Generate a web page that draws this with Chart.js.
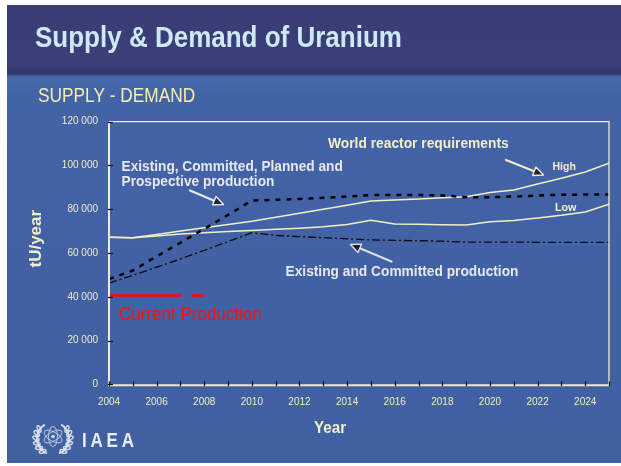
<!DOCTYPE html>
<html><head><meta charset="utf-8">
<script src="https://cdn.jsdelivr.net/npm/chart.js@4.4.0/dist/chart.umd.min.js"></script>
<style>html,body{margin:0;padding:0;background:#fff;overflow:hidden}canvas{display:block}</style>
</head><body>
<canvas id="c" width="621" height="466"></canvas>
<script>
// ---- data ----
const years = [2004,2005,2006,2007,2008,2009,2010,2011,2012,2013,2014,2015,2016,2017,2018,2019,2020,2021,2022,2023,2024,2025];
const highRequirements = [67200,67000,68500,70000,71500,73000,74500,76300,78200,80000,81800,83800,84200,84700,85200,85700,87600,88800,91500,94200,97000,101000];
const lowRequirements  = [67200,67000,67800,68700,69300,69800,70300,70800,71300,72000,73000,75000,73300,73100,72900,72800,74300,74800,76000,77200,78700,82300];
const ecppProduction   = [48100,52000,58500,64700,71000,77400,84000,84300,84700,85200,85800,86500,86500,86500,86300,85500,85500,85800,86300,86600,86700,86700];
const ecProduction     = [46200,49800,53500,57300,61200,65200,69300,68000,67500,67000,66500,66000,65800,65600,65400,65000,65000,65000,64900,64900,64900,64900];
const currentProductionYears = [2004,2008];
const currentProduction = [40700,40700];
const yTickValues = [0,20000,40000,60000,80000,100000,120000];
const xLabelYears = [2004,2006,2008,2010,2012,2014,2016,2018,2020,2022,2024];

const FONT = "'Liberation Sans', Arial, Helvetica, sans-serif";
const CREAM = '#f3efc6';
const LIGHT = '#e6e8ee';

function pts(xs, ys){ return xs.map((x,i)=>({x:x, y:ys[i]})); }
function fmt(v){ return String(v).replace(/\B(?=(\d{3})+(?!\d))/g,' '); }

function txt(ctx, s, x, y, font, color, sy, align, ls){
  ctx.save();
  ctx.translate(x,y); ctx.scale(1, sy||1);
  ctx.font = font; ctx.fillStyle = color;
  ctx.textAlign = align||'left'; ctx.textBaseline = 'alphabetic';
  if (ls) ctx.letterSpacing = ls;
  ctx.fillText(s,0,0);
  ctx.restore();
}
function arrow(ctx, x1,y1,x2,y2,color){
  const a = Math.atan2(y2-y1,x2-x1), L=10, W=4.5;
  const bx = x2 - L*Math.cos(a), by = y2 - L*Math.sin(a);
  ctx.save();
  ctx.strokeStyle = color; ctx.lineWidth = 2.2; ctx.lineCap='round';
  ctx.beginPath(); ctx.moveTo(x1,y1); ctx.lineTo(bx,by); ctx.stroke();
  ctx.beginPath();
  ctx.moveTo(x2,y2);
  ctx.lineTo(bx + W*Math.sin(a), by - W*Math.cos(a));
  ctx.lineTo(bx - W*Math.sin(a), by + W*Math.cos(a));
  ctx.closePath();
  ctx.fillStyle = '#1c2033'; ctx.fill();
  ctx.lineWidth = 1.4; ctx.lineJoin='round'; ctx.stroke();
  ctx.restore();
}

const decor = {
  id:'decor',
  beforeDraw(chart){
    const ctx = chart.ctx;
    ctx.save();
    ctx.fillStyle = '#ffffff'; ctx.fillRect(0,0,621,466);
    // body
    let g = ctx.createLinearGradient(0,76,0,463);
    g.addColorStop(0,'#4a6aae'); g.addColorStop(0.05,'#4363a7'); g.addColorStop(1,'#4060a2');
    ctx.fillStyle = g; ctx.fillRect(7,74,614,389);
    // header
    g = ctx.createLinearGradient(0,5,0,74);
    g.addColorStop(0,'#383d75'); g.addColorStop(0.85,'#3a3f78'); g.addColorStop(1,'#30366a');
    ctx.fillStyle = g; ctx.fillRect(7,5,614,70);
    g = ctx.createLinearGradient(0,72,0,80);
    g.addColorStop(0,'#2f3667'); g.addColorStop(1,'rgba(70,104,172,0)');
    ctx.fillStyle = g; ctx.fillRect(7,72,614,8);
    ctx.restore();
  },
  afterDraw(chart){
    const ctx = chart.ctx, ca = chart.chartArea;
    const xs = chart.scales.x, ys = chart.scales.y;
    ctx.save();
    // plot frame
    ctx.strokeStyle = '#efeccc';
    ctx.lineWidth = 1.3;
    ctx.beginPath();
    ctx.moveTo(ca.left, ca.top); ctx.lineTo(ca.right, ca.top); ctx.lineTo(ca.right, ca.bottom);
    ctx.stroke();
    ctx.lineWidth = 2;
    ctx.beginPath();
    ctx.moveTo(ca.left, ca.top); ctx.lineTo(ca.left, ca.bottom+1); ctx.lineTo(ca.right, ca.bottom+1);
    ctx.stroke();
    // inward tick marks
    ctx.strokeStyle = '#111'; ctx.lineWidth = 1.2;
    xs.ticks.forEach(t=>{
      const p = Math.round(xs.getPixelForValue(t.value))+0.5;
      ctx.beginPath(); ctx.moveTo(p, ca.bottom-3); ctx.lineTo(p, ca.bottom+2); ctx.stroke();
    });
    ys.ticks.forEach(t=>{
      const p = Math.round(ys.getPixelForValue(t.value))+0.5;
      ctx.beginPath(); ctx.moveTo(ca.left-1, p); ctx.lineTo(ca.left+4, p); ctx.stroke();
    });
    ctx.restore();

    // texts
    txt(ctx,'Supply & Demand of Uranium',35,47,'bold 26px '+FONT,'#cfe8f8',1.11);
    txt(ctx,'SUPPLY - DEMAND',38,101.5,'17.3px '+FONT,'#f5eeb0',1.15);
    txt(ctx,'World reactor requirements',328,147.5,'bold 13.8px '+FONT,CREAM,1.1);
    txt(ctx,'Existing, Committed, Planned and',121.5,170.5,'bold 13.7px '+FONT,LIGHT,1.1);
    txt(ctx,'Prospective production',121.5,185.5,'bold 13.7px '+FONT,LIGHT,1.1);
    txt(ctx,'High',552.5,170,'bold 10.5px '+FONT,CREAM,1.1);
    txt(ctx,'Low',555,210.5,'bold 10.7px '+FONT,CREAM,1.1);
    txt(ctx,'Existing and Committed production',285.5,275.5,'bold 13.75px '+FONT,LIGHT,1.1);
    txt(ctx,'Current Production',119,320,'17px '+FONT,'#f01414',1.12);
    txt(ctx,'Year',330,433,'bold 15.2px '+FONT,CREAM,1.12,'center');
    ctx.save();
    ctx.translate(36,238.7); ctx.rotate(-Math.PI/2);
    ctx.font='bold 17px '+FONT; ctx.fillStyle=CREAM; ctx.textAlign='center'; ctx.textBaseline='middle';
    ctx.fillText('tU/year',0,0);
    ctx.restore();
    txt(ctx,'IAEA',82,446.7,'bold 17px '+FONT,'#e9eef8',1.15,'left','3.8px');

    // arrows
    arrow(ctx,190,190.5,223.5,204.5,'#e8e8ea');
    arrow(ctx,506,160,543.5,175,'#efeccc');
    arrow(ctx,391.5,261.5,350.5,244.5,'#dcdfe6');

    // IAEA emblem (simplified)
    ctx.save();
    ctx.strokeStyle = 'rgba(225,230,240,0.9)'; ctx.lineWidth = 2;
    const cx=53, cy=438.5;
    ctx.beginPath(); ctx.arc(cx,cy,16,Math.PI*0.62,Math.PI*1.33); ctx.stroke();
    ctx.beginPath(); ctx.arc(cx,cy,16,-Math.PI*0.33,Math.PI*0.38); ctx.stroke();
    ctx.lineWidth = 1.5;
    for (let k=0;k<6;k++){
      const a1 = Math.PI*(0.7+k*0.1), a2 = Math.PI*(0.3-k*0.1);
      ctx.beginPath(); ctx.ellipse(cx+16*Math.cos(a1)-1, cy+16*Math.sin(a1), 3.5,1.6,a1+0.6,0,Math.PI*2); ctx.stroke();
      ctx.beginPath(); ctx.ellipse(cx+16*Math.cos(a2)+1, cy+16*Math.sin(a2), 3.5,1.6,a2-0.6,0,Math.PI*2); ctx.stroke();
    }
    ctx.strokeStyle = 'rgba(200,208,226,0.8)'; ctx.lineWidth = 1.1;
    [0, Math.PI/3, -Math.PI/3].forEach(r=>{
      ctx.beginPath(); ctx.ellipse(cx,cy-2,10,4.5,r+Math.PI/2,0,Math.PI*2); ctx.stroke();
    });
    ctx.fillStyle='rgba(220,226,238,0.9)';
    ctx.beginPath(); ctx.arc(cx,cy-2,1.8,0,Math.PI*2); ctx.fill();
    ctx.restore();
  }
};

const ctx = document.getElementById('c').getContext('2d');
new Chart(ctx, {
  type:'line',
  data:{
    datasets:[
      {label:'Current Production', data:pts(currentProductionYears,currentProduction), borderColor:'#ee1111', borderWidth:3, borderDash:[72.5,10.5], pointRadius:0, borderCapStyle:'butt'},
      {label:'Existing and Committed production', data:pts(years,ecProduction), borderColor:'#0a0a0a', borderWidth:1.3, borderDash:[8,3,2,3], pointRadius:0},
      {label:'Existing, Committed, Planned and Prospective production', data:pts(years,ecppProduction), borderColor:'#000000', borderWidth:2.5, borderDash:[5,6], pointRadius:0},
      {label:'Low', data:pts(years,lowRequirements), borderColor:'#f4f0c4', borderWidth:1.5, pointRadius:0},
      {label:'High', data:pts(years,highRequirements), borderColor:'#f4f0c4', borderWidth:1.5, pointRadius:0}
    ]
  },
  options:{
    responsive:false, animation:false, devicePixelRatio:1,
    layout:{padding:{top:121.7,right:8.3,left:0,bottom:0}},
    plugins:{legend:{display:false}, tooltip:{enabled:false}},
    elements:{line:{tension:0, fill:false}},
    scales:{
      x:{type:'linear', min:2004, max:2025,
        afterFit(s){ s.height = 81.7; },
        afterBuildTicks(s){ s.ticks = years.map(v=>({value:v})); },
        grid:{drawOnChartArea:false, drawTicks:false, display:true},
        border:{display:false},
        ticks:{autoSkip:false, maxRotation:0, padding:12, color:'#f0ecc8', font:{family:FONT,size:10},
          callback:(v)=> xLabelYears.includes(v) ? String(v) : ''}
      },
      y:{type:'linear', min:0, max:120000,
        afterFit(s){ s.width = 109; },
        afterBuildTicks(s){ s.ticks = yTickValues.map(v=>({value:v})); },
        grid:{drawOnChartArea:false, drawTicks:false},
        border:{display:false},
        ticks:{padding:11, color:'#f0ecc8', font:{family:FONT,size:10}, callback:(v)=>fmt(v)}
      }
    }
  },
  plugins:[decor]
});
</script>
</body></html>
